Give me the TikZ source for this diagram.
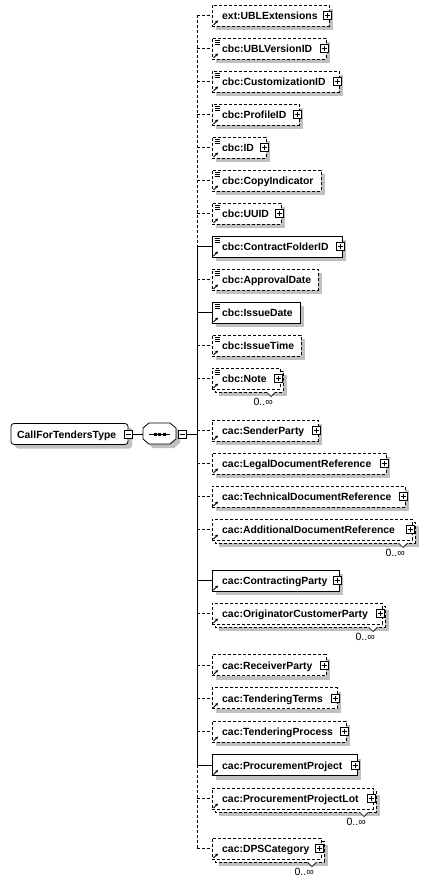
\documentclass[tikz,border=0pt]{standalone}
\usepackage{fontspec}
\setmainfont{Liberation Sans}
\usetikzlibrary{arrows.meta}
\definecolor{shad}{RGB}{192,192,192}
\tikzset{
  elbox/.style={draw=black, line width=0.8pt, fill=white, minimum height=21pt, inner sep=0pt, outer sep=0pt},
  opt/.style={dash pattern=on 3pt off 2pt},
  req/.style={},
  lbl/.style={font=\fontsize{10.4}{12}\selectfont\bfseries, inner sep=0pt, anchor=base west},
  occ/.style={font=\fontsize{10.5}{12}\selectfont, inner sep=0pt, anchor=base east},
  conn/.style={line width=0.8pt},
  plusic/.style={draw=black, line width=0.8pt, fill=white, minimum size=8pt, inner sep=0pt, outer sep=0pt,
    path picture={\draw[line width=0.8pt] ([xshift=-2.5pt]path picture bounding box.center) -- ([xshift=2.5pt]path picture bounding box.center)
      ([yshift=-2.5pt]path picture bounding box.center) -- ([yshift=2.5pt]path picture bounding box.center);}},
  minusic/.style={draw=black, line width=0.8pt, fill=white, minimum size=8pt, inner sep=0pt, outer sep=0pt,
    path picture={\draw[line width=0.8pt] ([xshift=-2.5pt]path picture bounding box.center) -- ([xshift=2.5pt]path picture bounding box.center);}},
  refarrow/.style={-{Stealth[length=3pt,width=3pt]}, line width=0.9pt},
}
% #1 name, #2 cy, #3 right x, #4 opt|req, #5 text
\newcommand\El[5]{%
  \fill[shad] (216,#2-6.5) rectangle (#3+4,#2+14.5);
  \node[elbox,#4,minimum width={(#3)-212}, anchor=west] (#1) at (212,#2) {};
  \node[lbl] (#1t) at (222,#2+4) {#5};
  \coordinate (bus#1) at (197,#2);
  \draw[conn,#4] (bus#1) -- (#1.west);
  \draw[refarrow] (213.5,#2+9.5) -- (218,#2+5);
}
\newcommand\ElM[5]{%
  \fill[shad] (219,#2-3.5) rectangle (#3+7,#2+17.5);
  \draw[elbox,#4] (215,#2-7.5) rectangle (#3+3,#2+13.5);
  \fill[white] (#3-13.5,#2+13.5) -- (#3-9,#2+18) -- (#3-4.5,#2+13.5) -- cycle;
  \draw[line width=0.7pt] (#3-13.5,#2+13.5) -- (#3-9,#2+18) -- (#3-4.5,#2+13.5);
  \node[occ] (#1o) at (#3-7,#2+27) {0..∞};
  \node[elbox,#4,minimum width={(#3)-212}, anchor=west] (#1) at (212,#2) {};
  \node[lbl] (#1t) at (222,#2+4) {#5};
  \coordinate (bus#1) at (197,#2);
  \draw[conn,#4] (bus#1) -- (#1.west);
  \draw[refarrow] (213.5,#2+9.5) -- (218,#2+5);
}
\newcommand\Simp[1]{\draw[line width=0.6pt] (214.5,#1-8.5) -- ++(5,0) (214.5,#1-6.5) -- ++(5,0) (214.5,#1-4.5) -- ++(5,0);}
\newcommand\Plus[3]{\node[plusic] (#1p) at (#2-2,#3) {};}
\begin{document}
\begin{tikzpicture}[x=1pt,y=-1pt]
\useasboundingbox (0,0) rectangle (430,885);
\fill[white] (0,0) rectangle (430,885);

% bus
\coordinate (busTop) at (197,15.5);
\coordinate (busA) at (197,246.5);
\coordinate (busB) at (197,765);
\coordinate (busBot) at (197,848.5);
\coordinate (busMid) at (197,434);
\draw[conn,opt] (busTop) -- (busA);
\draw[conn] (busA) -- (busB);
\draw[conn,opt] (busB) -- (busBot);

% root
\fill[shad, rounded corners=3pt] (15,427.5) rectangle (132,448.5);
\node[elbox, rounded corners=3pt, minimum width=117pt, anchor=west] (root) at (11,434) {};
\node[lbl] (roott) at (17,438) {CallForTendersType};
\node[minusic] (rootm) at (128,434) {};

% sequence
\fill[shad] (147,431) -- (153,426.5) -- (174,426.5) -- (180,431) -- (180,443) -- (174,448) -- (153,448) -- (147,443) -- cycle;
\draw[line width=0.8pt, fill=white] (143,428) -- (149,423) -- (170,423) -- (176,428) -- (176,439) -- (170,444) -- (149,444) -- (143,439) -- cycle;
\coordinate (seqw) at (143,434);
\draw[line width=0.8pt] (149,434) -- (170,434);
\fill (153.5,432.5) rectangle (156.5,435.5);
\fill (158,432.5) rectangle (161,435.5);
\fill (162.5,432.5) rectangle (165.5,435.5);
\node[minusic] (seqm) at (182,434) {};
\draw[conn] (rootm.east) -- (seqw);
\draw[conn] (seqm.east) -- (busMid);

% children
\El{e1}{15.5}{329}{opt}{ext:UBLExtensions} \Plus{e1}{329}{15.5}
\El{e2}{48.5}{326}{opt}{cbc:UBLVersionID} \Simp{48.5} \Plus{e2}{326}{48.5}
\El{e3}{81.5}{339}{opt}{cbc:CustomizationID} \Simp{81.5} \Plus{e3}{339}{81.5}
\El{e4}{114.5}{299}{opt}{cbc:ProfileID} \Simp{114.5} \Plus{e4}{299}{114.5}
\El{e5}{147.5}{266}{opt}{cbc:ID} \Simp{147.5} \Plus{e5}{266}{147.5}
\El{e6}{180.5}{321}{opt}{cbc:CopyIndicator} \Simp{180.5}
\El{e7}{213.5}{281}{opt}{cbc:UUID} \Simp{213.5} \Plus{e7}{281}{213.5}
\El{e8}{246.5}{342}{req}{cbc:ContractFolderID} \Simp{246.5} \Plus{e8}{342}{246.5}
\El{e9}{279.5}{318}{opt}{cbc:ApprovalDate} \Simp{279.5}
\El{e10}{312.5}{300}{req}{cbc:IssueDate} \Simp{312.5}
\El{e11}{345.5}{301}{opt}{cbc:IssueTime} \Simp{345.5}
\ElM{e12}{378.5}{280}{opt}{cbc:Note} \Simp{378.5} \Plus{e12}{280}{378.5}
\El{e13}{430.5}{318}{opt}{cac:SenderParty} \Plus{e13}{318}{430.5}
\El{e14}{463.5}{386}{opt}{cac:LegalDocumentReference} \Plus{e14}{386}{463.5}
\El{e15}{496.5}{405}{opt}{cac:TechnicalDocumentReference} \Plus{e15}{405}{496.5}
\ElM{e16}{529.5}{412}{opt}{cac:AdditionalDocumentReference} \Plus{e16}{412}{529.5}
\El{e17}{580.5}{339}{req}{cac:ContractingParty} \Plus{e17}{339}{580.5}
\ElM{e18}{613.5}{382}{opt}{cac:OriginatorCustomerParty} \Plus{e18}{382}{613.5}
\El{e19}{665}{326}{opt}{cac:ReceiverParty} \Plus{e19}{326}{665}
\El{e20}{698}{337}{opt}{cac:TenderingTerms} \Plus{e20}{337}{698}
\El{e21}{731.5}{346}{opt}{cac:TenderingProcess} \Plus{e21}{346}{731.5}
\El{e22}{765}{357}{req}{cac:ProcurementProject} \Plus{e22}{357}{765}
\ElM{e23}{798.5}{373}{opt}{cac:ProcurementProjectLot} \Plus{e23}{373}{798.5}
\ElM{e24}{848.5}{321}{opt}{cac:DPSCategory} \Plus{e24}{321}{848.5}
\end{tikzpicture}
\end{document}
